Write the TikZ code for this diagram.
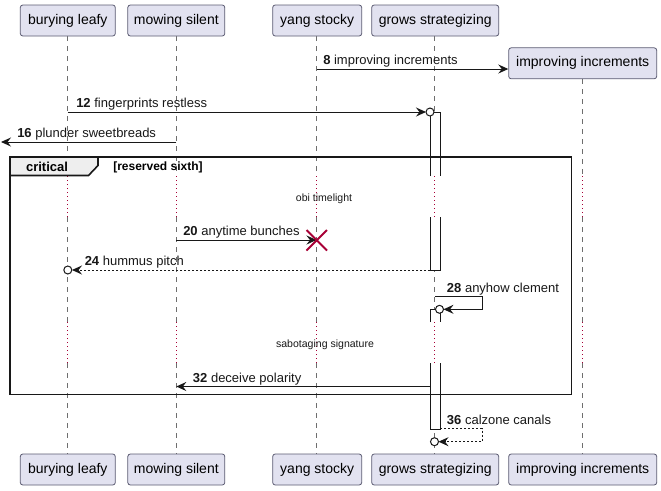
\documentclass[tikz,border=0pt]{standalone}
\usepackage{fontspec}
\setmainfont{Liberation Sans}
\usetikzlibrary{arrows.meta}
\definecolor{pfill}{HTML}{E2E2F0}
\definecolor{pdraw}{HTML}{5B5B72}
\definecolor{life}{HTML}{6E6E6E}
\definecolor{crim}{HTML}{A80036}
\definecolor{tabfill}{HTML}{EEEEEE}
\definecolor{ink}{HTML}{181818}
\begin{document}
\begin{tikzpicture}[x=0.75pt,y=-0.75pt,
  part/.style={draw=pdraw,fill=pfill,rounded corners=1.9pt,line width=0.6pt,
    minimum height=23.25pt,inner sep=0pt,font=\fontsize{10.5pt}{12pt}\selectfont},
  lifedash/.style={draw=life,line width=0.5pt,dash pattern=on 3.75pt off 3.75pt},
  lifedot/.style={draw=crim,line width=0.6pt,dash pattern=on 0.75pt off 2.25pt},
  msg/.style={draw=ink,line width=0.75pt,-{Stealth[length=7.5pt,width=6.75pt,inset=2.6pt]}},
  rmsg/.style={msg,dash pattern=on 1.5pt off 1.5pt},
  lbl/.style={anchor=base west,inner sep=0pt,font=\fontsize{9.75pt}{11pt}\selectfont,text=ink},
  dly/.style={anchor=center,inner sep=0pt,font=\fontsize{7.9pt}{9pt}\selectfont,text=ink},
  actbar/.style={draw=ink,line width=0.75pt},
  endo/.style={draw=ink,fill=white,line width=0.75pt},
  frm/.style={draw=ink,line width=1.2pt},
]
\useasboundingbox (0,0) rectangle (661,490);
\fill[white] (0,0) rectangle (661,490);

% lifelines
\foreach \x/\t in {67.8/36,176.3/36,316.5/36,434.5/36,582.7/79.3}{
  \draw[lifedash] (\x,\t) -- (\x,176);
  \draw[lifedot] (\x,176) -- (\x,217);
  \draw[lifedash] (\x,217) -- (\x,322);
  \draw[lifedot] (\x,322) -- (\x,363);
  \draw[lifedash] (\x,363) -- (\x,454);
}

% participants top
\node[part,minimum width=71.25pt] (pA) at (67.8,20.5) {burying leafy};
\node[part,minimum width=72.75pt] (pB) at (176.3,20.5) {mowing silent};
\node[part,minimum width=66.75pt] (pC) at (317.2,20.5) {yang stocky};
\node[part,minimum width=95.25pt] (pD) at (435.2,20.5) {grows strategizing};
\node[part,minimum width=111pt] (pE) at (582.7,63.3) {improving increments};
% participants bottom
\node[part,minimum width=71.25pt] (qA) at (67.8,469.5) {burying leafy};
\node[part,minimum width=72.75pt] (qB) at (176.3,469.5) {mowing silent};
\node[part,minimum width=66.75pt] (qC) at (317.2,469.5) {yang stocky};
\node[part,minimum width=95.25pt] (qD) at (435.2,469.5) {grows strategizing};
\node[part,minimum width=111pt] (qE) at (582.7,469.5) {improving increments};

% activation bars (open at the delays)
\fill[white] (430,112) rectangle (440,176);
\fill[white] (430,217) rectangle (440,270);
\fill[white] (430,309) rectangle (440,322);
\fill[white] (430,363) rectangle (440,429);
\draw[actbar] (430,176) -- (430,112) -- (440,112) -- (440,176);
\draw[actbar] (430,217) -- (430,270) -- (440,270) -- (440,217);
\draw[actbar] (430,322) -- (430,309) -- (440,309) -- (440,322);
\draw[actbar] (430,363) -- (430,429) -- (440,429) -- (440,363);

% message 8
\coordinate (m8a) at (316.5,69);
\draw[msg] (m8a) -- (pE.west |- m8a);
\node[lbl] (t8) at (323,64.5) {\textbf{8} improving increments};

% message 12
\coordinate (m12a) at (67.8,112);
\coordinate (m12b) at (426,112);
\draw[msg] (m12a) -- (m12b);
\node[endo,circle,minimum size=6pt,inner sep=0pt] (o12) at (430,112) {};
\node[lbl] (t12) at (76,107.5) {\textbf{12} fingerprints restless};

% message 16
\coordinate (m16a) at (176.3,142);
\coordinate (m16b) at (1,142);
\draw[msg] (m16a) -- (m16b);
\node[lbl] (t16) at (17,137.5) {\textbf{16} plunder sweetbreads};

% critical frame
\draw[frm] (10,157) rectangle (571.5,394.5);
\draw[frm,fill=tabfill] (10,157) -- (98,157) -- (98,165.5) -- (88.5,175.5) -- (10,175.5) -- cycle;
\node[anchor=center,inner sep=0pt,font=\bfseries\fontsize{9.75pt}{11pt}\selectfont] (crit) at (47,167) {critical};
\node[anchor=west,inner sep=0pt,font=\bfseries\fontsize{9pt}{10pt}\selectfont] (guard) at (113,167) {[reserved sixth]};

% delay 1
\node[dly] (d1) at (324,199) {obi timelight};

% message 20
\coordinate (m20a) at (176.3,240);
\coordinate (m20b) at (316.5,240);
\draw[msg] (m20a) -- (m20b);
\draw[crim,line width=1.5pt] (306.5,230) -- (327,250.5) (306.5,250.5) -- (327,230);
\node[lbl] (t20) at (183,235.5) {\textbf{20} anytime bunches};

% message 24
\coordinate (m24a) at (430,270);
\coordinate (m24b) at (72,270);
\draw[rmsg] (m24a) -- (m24b);
\node[endo,circle,minimum size=6pt,inner sep=0pt] (o24) at (67.8,270) {};
\node[lbl] (t24) at (84.5,265.5) {\textbf{24} hummus pitch};

% message 28 (self)
\coordinate (m28a) at (435,296.5);
\coordinate (m28b) at (443.5,309.3);
\draw[msg] (m28a) -- (482,296.5) -- (482,309.3) -- (m28b);
\node[endo,circle,minimum size=6pt,inner sep=0pt] (o28) at (439.5,309.3) {};
\node[lbl] (t28) at (446.7,292) {\textbf{28} anyhow clement};

% delay 2
\node[dly] (d2) at (325,345) {sabotaging signature};

% message 32
\coordinate (m32a) at (430,386.5);
\coordinate (m32b) at (176.3,386.5);
\draw[msg] (m32a) -- (m32b);
\node[lbl] (t32) at (192.7,382) {\textbf{32} deceive polarity};

% message 36 (self, return)
\coordinate (m36a) at (440,428.7);
\coordinate (m36b) at (438.5,441.7);
\draw[rmsg] (m36a) -- (482,428.7) -- (482,441.7) -- (m36b);
\node[endo,circle,minimum size=6pt,inner sep=0pt] (o36) at (434.5,441.7) {};
\node[lbl] (t36) at (446.7,424.2) {\textbf{36} calzone canals};
\end{tikzpicture}
\end{document}
